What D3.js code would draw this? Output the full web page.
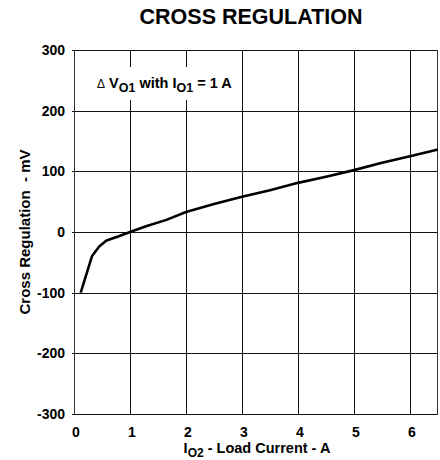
<!DOCTYPE html>
<html><head><meta charset="utf-8">
<script src="https://cdn.jsdelivr.net/npm/d3@7"></script>
<style>
html,body{margin:0;padding:0;background:#fff;}
text{font-family:Arial,"Liberation Sans",sans-serif;font-weight:bold;fill:#000;}
</style></head>
<body><svg id="c" width="440" height="460"></svg>
<script>
const loadCurrent = [0.12, 0.32, 0.45, 0.58, 0.8, 1.0, 1.3, 1.65, 2.0, 2.5, 3.0, 3.5, 4.0, 4.5, 5.0, 5.5, 6.0, 6.5];
const crossReg    = [-100, -40, -24, -14, -7, 0, 10, 20, 33, 46, 58, 69, 81, 91, 102, 114, 125, 136];
const xTicks = [0, 1, 2, 3, 4, 5, 6];
const yTicks = [-300, -200, -100, 0, 100, 200, 300];

const svg = d3.select("#c");
const L = 74, R = 438, T = 50, B = 414;
const x = d3.scaleLinear().domain([0, 6.5]).range([L, R]);
const y = d3.scaleLinear().domain([-300, 300]).range([B, T]);

const grid = svg.append("g").attr("shape-rendering", "crispEdges");
grid.selectAll("rect.v").data(xTicks.filter(d => d > 0)).join("rect").attr("class", "v")
  .attr("x", d => Math.round(x(d))).attr("width", 1)
  .attr("y", T).attr("height", B - T).attr("fill", "#111");
grid.selectAll("rect.h").data(yTicks).join("rect").attr("class", "h")
  .attr("x", L - 2).attr("width", R - L + 2)
  .attr("y", d => Math.round(y(d))).attr("height", 1).attr("fill", "#111");
grid.append("rect").attr("x", L).attr("width", 1).attr("y", T).attr("height", B - T + 1).attr("fill", "#333");
grid.append("rect").attr("x", R - 1).attr("width", 1).attr("y", T).attr("height", B - T + 1).attr("fill", "#333");

// annotation box
svg.append("rect").attr("x", 86).attr("y", 67).attr("width", 152).attr("height", 33).attr("fill", "#fff");
const ann = svg.append("text").attr("x", 97).attr("y", 88).style("font-size", "14.5px");
ann.append("tspan").text("\u0394").style("font-weight", "normal").style("font-size", "12px");
ann.append("tspan").text(" V");
ann.append("tspan").text("O1").attr("dy", 4).style("font-size", "12.5px");
ann.append("tspan").text(" with I").attr("dy", -4);
ann.append("tspan").text("O1").attr("dy", 4).style("font-size", "12.5px");
ann.append("tspan").text(" = 1 A").attr("dy", -4);

// curve
const line = d3.line().x((d, i) => x(loadCurrent[i])).y(d => y(d));
svg.append("path").datum(crossReg).attr("d", line)
  .attr("fill", "none").attr("stroke", "#000").attr("stroke-width", 2.6)
  .attr("stroke-linejoin", "round");

// tick labels
svg.append("g").selectAll("text").data(yTicks).join("text")
  .attr("x", 65).attr("y", d => y(d)).attr("dy", "0.36em").attr("text-anchor", "end")
  .style("font-size", "14px").text(d => d);
svg.append("g").selectAll("text").data(xTicks).join("text")
  .attr("x", d => x(d) + 2).attr("y", 437).attr("text-anchor", "middle")
  .style("font-size", "14px").text(d => d);

// title
svg.append("text").attr("x", 251).attr("y", 24).attr("text-anchor", "middle")
  .style("font-size", "21.5px").text("CROSS REGULATION");

// x label
const xl = svg.append("text").attr("x", 257).attr("y", 453).attr("text-anchor", "middle").style("font-size", "14.5px");
xl.append("tspan").text("I");
xl.append("tspan").text("O2").attr("dy", 4).style("font-size", "12px");
xl.append("tspan").text(" - Load Current - A").attr("dy", -4);

// y label
svg.append("text").attr("transform", "translate(30,232) rotate(-90)").attr("text-anchor", "middle")
  .style("font-size", "15px").text("Cross Regulation\u00a0 - mV");
</script></body></html>
